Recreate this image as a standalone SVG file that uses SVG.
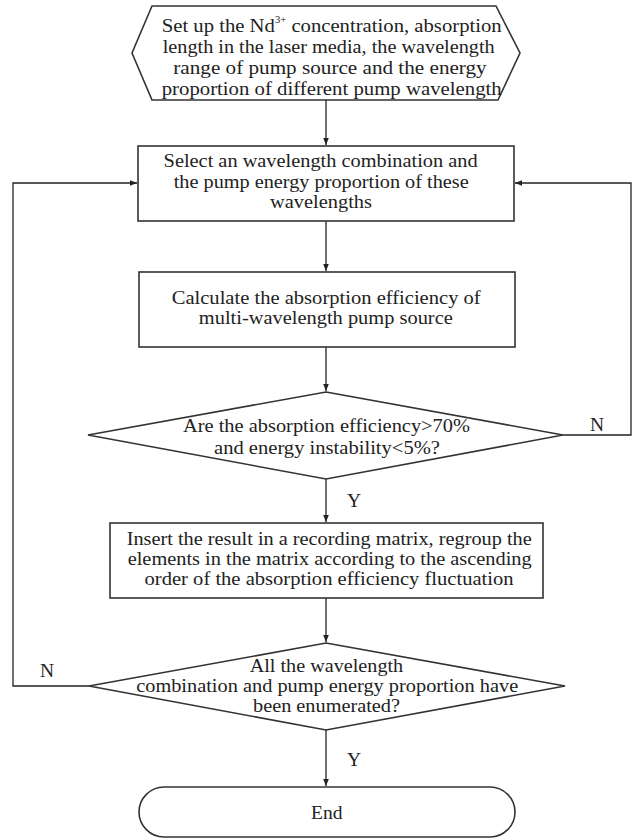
<svg xmlns="http://www.w3.org/2000/svg" width="633" height="839" viewBox="0 0 633 839">
<defs>
<style>
.shape{fill:#fff;stroke:#333;stroke-width:1.6}
.conn{fill:none;stroke:#222;stroke-width:1.3}
text{font-family:"Liberation Serif","Times New Roman",serif;font-size:19.5px;fill:#222}
</style>
<marker id="arr" viewBox="0 0 10 10" refX="10" refY="5" markerWidth="7" markerHeight="7" markerUnits="userSpaceOnUse" orient="auto">
<path d="M0,1 L10,5 L0,9 Z" fill="#222"/>
</marker>
</defs>
<rect width="633" height="839" fill="#fff"/>
<g id="connectors">
<path class="conn" d="M326,100 V145" marker-end="url(#arr)"/>
<path class="conn" d="M326,221 V271" marker-end="url(#arr)"/>
<path class="conn" d="M326,347 V391" marker-end="url(#arr)"/>
<path class="conn" d="M326,479 V522" marker-end="url(#arr)"/>
<path class="conn" d="M326,598 V642" marker-end="url(#arr)"/>
<path class="conn" d="M326,730 V786" marker-end="url(#arr)"/>
<path class="conn" d="M563,435 H631 V183 H515" marker-end="url(#arr)"/>
<path class="conn" d="M89,686 H13 V183 H137" marker-end="url(#arr)"/>
<text x="354" y="507" text-anchor="middle">Y</text>
<text x="354" y="766" text-anchor="middle">Y</text>
<text x="597" y="431" text-anchor="middle">N</text>
<text x="47" y="677" text-anchor="middle">N</text>
</g>
<g id="start">
<polygon class="shape" points="132,53 152,6 496,6 520,53 498,100 152,100"/>
<text x="161.7" y="31.5" textLength="340" lengthAdjust="spacingAndGlyphs">Set up the Nd<tspan font-size="10" dy="-9">3+</tspan><tspan dy="9"> concentration, absorption</tspan></text>
<text x="162.7" y="52.5" textLength="332" lengthAdjust="spacingAndGlyphs">length in the laser media, the wavelength</text>
<text x="173.3" y="73.5" textLength="313.4" lengthAdjust="spacingAndGlyphs">range of pump source and the energy</text>
<text x="161.7" y="94.5" textLength="340" lengthAdjust="spacingAndGlyphs">proportion of different pump wavelength</text>
</g>
<g id="select">
<rect class="shape" x="138" y="146" width="376" height="75"/>
<text x="163.6" y="167" textLength="314" lengthAdjust="spacingAndGlyphs">Select an wavelength combination and</text>
<text x="173.7" y="187.8" textLength="295" lengthAdjust="spacingAndGlyphs">the pump energy proportion of these</text>
<text x="270" y="208.3" textLength="102" lengthAdjust="spacingAndGlyphs">wavelengths</text>
</g>
<g id="calculate">
<rect class="shape" x="139" y="272" width="376" height="75"/>
<text x="171.7" y="303.5" textLength="309" lengthAdjust="spacingAndGlyphs">Calculate the absorption efficiency of</text>
<text x="198.8" y="324.3" textLength="254" lengthAdjust="spacingAndGlyphs">multi-wavelength pump source</text>
</g>
<g id="decision1">
<polygon class="shape" points="326,392 563,435 326,479 88,435"/>
<text x="183" y="432" textLength="287" lengthAdjust="spacingAndGlyphs">Are the absorption efficiency&gt;70%</text>
<text x="214" y="453.5" textLength="226" lengthAdjust="spacingAndGlyphs">and energy instability&lt;5%?</text>
</g>
<g id="insert">
<rect class="shape" x="110" y="523" width="433" height="75"/>
<text x="126.7" y="545" textLength="405" lengthAdjust="spacingAndGlyphs">Insert the result in a recording matrix, regroup the</text>
<text x="127.7" y="565" textLength="404" lengthAdjust="spacingAndGlyphs">elements in the matrix according to the ascending</text>
<text x="144.6" y="585" textLength="369" lengthAdjust="spacingAndGlyphs">order of the absorption efficiency fluctuation</text>
</g>
<g id="decision2">
<polygon class="shape" points="326,643 565,686 326,730 89,686"/>
<text x="249.7" y="671.5" textLength="153.5" lengthAdjust="spacingAndGlyphs">All the wavelength</text>
<text x="136.2" y="691.8" textLength="382" lengthAdjust="spacingAndGlyphs">combination and pump energy proportion have</text>
<text x="253" y="712" textLength="147" lengthAdjust="spacingAndGlyphs">been enumerated?</text>
</g>
<g id="end">
<rect class="shape" x="139" y="787" width="376" height="50" rx="25" ry="25"/>
<text x="311" y="819" textLength="31.5" lengthAdjust="spacingAndGlyphs">End</text>
</g>
</svg>
